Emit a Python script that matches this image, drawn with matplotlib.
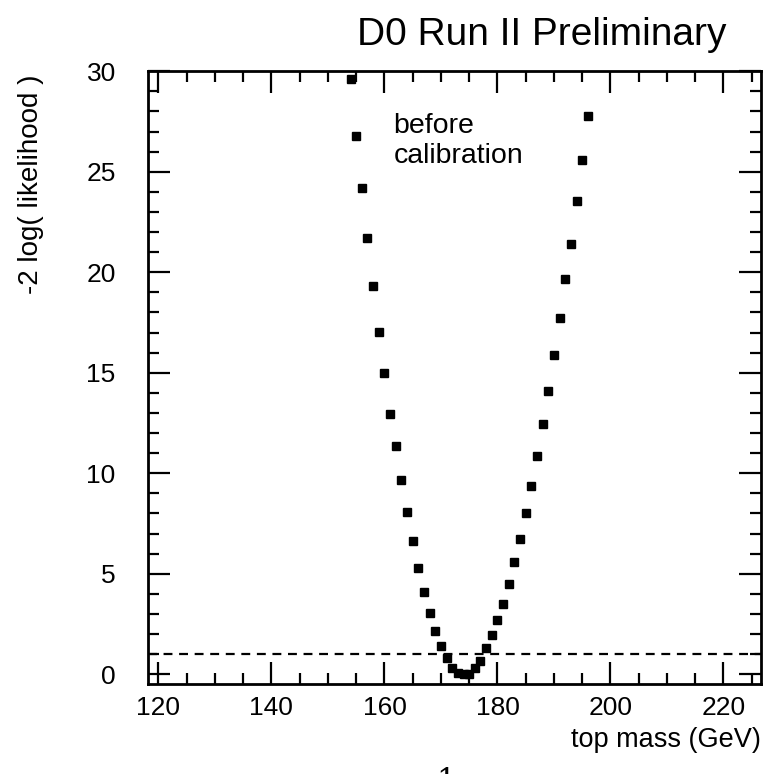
import numpy as np
import matplotlib
matplotlib.use("Agg")
import matplotlib.pyplot as plt
from matplotlib.ticker import MultipleLocator

plt.rcParams['font.family'] = ['Liberation Sans', 'DejaVu Sans']

# likelihood scan: top mass (GeV) vs -2 log(L)
mass = [154, 155, 156, 157, 158, 159, 160, 161, 162, 163, 164, 165, 166, 167,
        168, 169, 170, 171, 172, 173, 174, 175, 176, 177, 178, 179, 180, 181,
        182, 183, 184, 185, 186, 187, 188, 189, 190, 191, 192, 193, 194, 195, 196]
m2logl = [29.6, 26.8, 24.2, 21.7, 19.3, 17.05, 14.98, 12.97, 11.37, 9.67, 8.09,
          6.63, 5.30, 4.09, 3.06, 2.15, 1.40, 0.80, 0.33, 0.08, 0.0, 0.03, 0.30,
          0.65, 1.32, 1.94, 2.68, 3.50, 4.49, 5.57, 6.72, 8.01, 9.38, 10.86,
          12.44, 14.09, 15.87, 17.71, 19.67, 21.42, 23.53, 25.6, 27.8]
one_sigma = 1.0

fig = plt.figure(figsize=(7.7, 7.74), dpi=100)
ax = fig.add_axes([0.1918, 0.1167, 0.988 - 0.1918, 0.9079 - 0.1167])

ax.plot(mass, m2logl, 's', color='k', ms=5.3, mec='k')
ax.axhline(one_sigma, color='k', lw=1.6, ls=(0, (4, 3)))

ax.set_xlim(118.1, 226.6)
ax.set_ylim(-0.47, 30)
ax.xaxis.set_major_locator(MultipleLocator(20))
ax.xaxis.set_minor_locator(MultipleLocator(5))
ax.yaxis.set_major_locator(MultipleLocator(5))
ax.yaxis.set_minor_locator(MultipleLocator(1))

ax.tick_params(which='both', direction='in', top=True, right=True, width=1.6,
               labelsize=19)
ax.tick_params(which='major', length=15.5)
ax.tick_params(which='minor', length=8)
ax.tick_params(axis='y', pad=23)
ax.tick_params(axis='x', pad=9)
for s in ax.spines.values():
    s.set_linewidth(2)

# annotation, one line at a time
ax.text(161.6, 26.95, 'before', fontsize=20.5, ha='left', va='baseline')
ax.text(161.6, 25.42, 'calibration', fontsize=20.5, ha='left', va='baseline')

fig.text(0.703, 0.955, 'D0 Run II Preliminary', fontsize=28, ha='center',
         va='center')
fig.text(31 / 770, 1 - 75 / 774, '-2 log( likelihood )', fontsize=20,
         rotation=90, ha='center', va='top')
fig.text(0.988, 1 - 740 / 774, 'top mass (GeV)', fontsize=19.5, ha='right',
         va='center')
fig.text(446 / 770, 1 - 767 / 774, '1', fontsize=22, family='serif',
         ha='center', va='top')

fig.savefig('out.png', dpi=100)
